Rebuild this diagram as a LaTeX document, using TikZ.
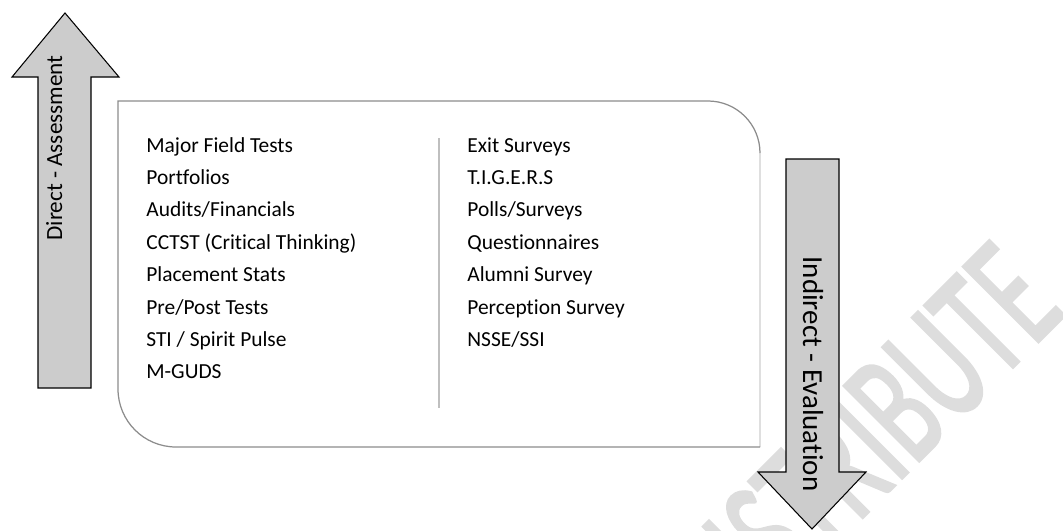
\documentclass[tikz,border=0pt]{standalone}
\usepackage{fontspec}
\setmainfont{Carlito}[Ligatures=NoCommon]
\newfontfamily\marcafont{Carlito}[FakeBold=2]

\begin{document}
\begin{tikzpicture}[x=0.02cm, y=-0.02cm,
    item/.style={anchor=base west, inner sep=0pt, font=\fontsize{12.2}{14}\selectfont},
    bigarrow/.style={draw=black, fill=gray!40, line width=0.6pt},
    arrowtext/.style={anchor=base, inner sep=0pt},
    boxline/.style={draw=gray!90, line width=0.7pt}]
    \useasboundingbox (0,0) rectangle (1063,531);

    % Marca de agua
    \begin{scope}
        \clip (0,0) rectangle (1063,531);
        \node[rotate=45, anchor=base east, inner sep=0pt, text=gray!27,
              font=\marcafont\fontsize{94}{94}\selectfont] (marca) at (1068,312)
              {\scalebox{0.61}[1]{DISTRIBUTE}};
    \end{scope}

    % Recuadro central
    \fill[white] (118,101) -- (708,101) arc[start angle=-90, end angle=0, radius=52]
        -- (760,447) -- (176,447) arc[start angle=90, end angle=180, radius=58] -- cycle;
    \draw[boxline, draw=gray!25] (760,153) -- (760,447);
    \draw[boxline] (760,447) -- (176,447) arc[start angle=90, end angle=180, radius=58]
        -- (118,101) -- (708,101) arc[start angle=-90, end angle=0, radius=52];

    % Separador
    \coordinate (sepA) at (439,138);
    \coordinate (sepB) at (439,408);
    \draw[gray!150!black, line width=0.8pt] (sepA) -- (sepB);

    % Columna izquierda
    \node[item] (d1) at (146,152.0) {Major Field Tests};
    \node[item] (d2) at (146,184.4) {Portfolios};
    \node[item] (d3) at (146,216.8) {Audits/Financials};
    \node[item] (d4) at (146,249.2) {CCTST (Critical Thinking)};
    \node[item] (d5) at (146,281.6) {Placement Stats};
    \node[item] (d6) at (146,314.0) {Pre/Post Tests};
    \node[item] (d7) at (146,346.4) {STI / Spirit Pulse};
    \node[item] (d8) at (146,378.8) {M-GUDS};

    % Columna derecha
    \node[item] (i1) at (467,152.0) {Exit Surveys};
    \node[item] (i2) at (467,184.4) {T.I.G.E.R.S};
    \node[item] (i3) at (467,216.8) {Polls/Surveys};
    \node[item] (i4) at (467,249.2) {Questionnaires};
    \node[item] (i5) at (467,281.6) {Alumni Survey};
    \node[item] (i6) at (467,314.0) {Perception Survey};
    \node[item] (i7) at (467,346.4) {NSSE/SSI};

    % Flecha hacia arriba
    \draw[bigarrow] (38,388) -- (38,77) -- (12,77) -- (65,13) -- (119,77)
        -- (91,77) -- (91,388) -- cycle;
    \node[arrowtext, rotate=90, font=\fontsize{13.2}{15}\selectfont] (directa)
        at (62,148) {Direct - Assessment};

    % Flecha hacia abajo
    \draw[bigarrow] (786,159) -- (839,159) -- (839,472) -- (866,472) -- (812,529)
        -- (758,472) -- (786,472) -- cycle;
    \node[arrowtext, rotate=-90, font=\fontsize{16.5}{18}\selectfont] (indirecta)
        at (803,374) {Indirect - Evaluation};
\end{tikzpicture}
\end{document}
